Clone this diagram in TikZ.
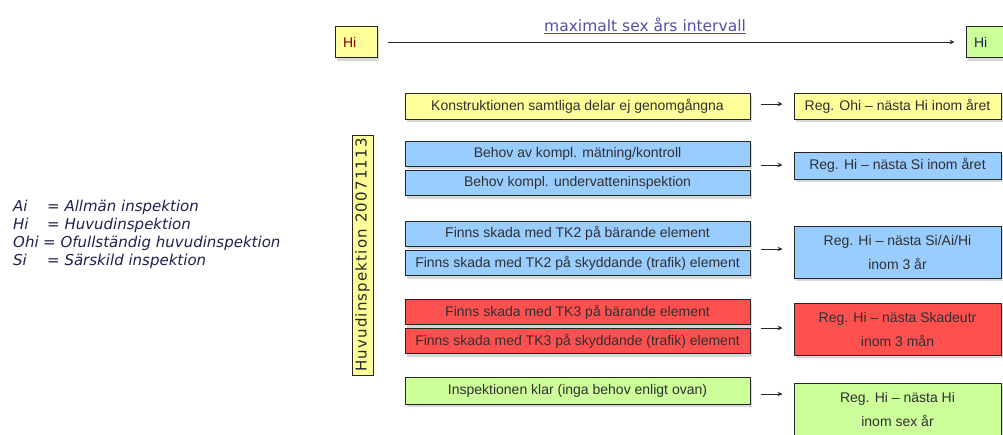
\documentclass[tikz,border=0pt]{standalone}
\usepackage{fontspec}
\setmainfont{Liberation Sans}
\newfontfamily\dvs{DejaVu Sans}
\newfontfamily\dvsls[LetterSpace=8]{DejaVu Sans}
\usetikzlibrary{arrows.meta,shadows}
\definecolor{byellow}{HTML}{FFFF99}
\definecolor{bblue}{HTML}{99CCFF}
\definecolor{bred}{HTML}{FF5050}
\definecolor{bgreen}{HTML}{CCFF99}
\definecolor{lblue}{HTML}{5050A8}
\definecolor{navy}{HTML}{1E2250}
\definecolor{txt}{HTML}{303030}
\tikzset{
  box/.style={draw=black!85, line width=0.9pt, rectangle, inner sep=0pt, align=center,
    font=\fontsize{14}{24}\selectfont, text=txt,
    drop shadow={opacity=0.3, shadow xshift=2pt, shadow yshift=-3pt}},
  lbox/.style={box, minimum width=345pt, minimum height=25pt},
  rbox/.style={box, minimum width=207pt},
  hibox/.style={box, minimum height=31pt, text width=26pt, inner xsep=8pt, align=left},
  vbox/.style={draw=black!85, line width=0.9pt, fill=byellow, rectangle, inner sep=0pt,
    font=\dvsls\fontsize{15}{16}\selectfont, text=black!85},
  arr/.style={-{Stealth[length=5pt,width=4.5pt]}, line width=0.9pt, draw=black!85},
  legend/.style={font=\dvs\itshape\fontsize{15}{18}\selectfont, text=navy, inner sep=0pt, anchor=base west},
}
\begin{document}
\begin{tikzpicture}[x=1pt,y=-1pt]
\useasboundingbox (0,0) rectangle (1003,434);
\clip (0,0) rectangle (1003,434);
\fill[white] (0,0) rectangle (1003,434);

% top row
\node[hibox, fill=byellow, text=red!50!black] (hl) at (356,42) {Hi};
\node[hibox, fill=bgreen, text=navy] (hr) at (987,42) {Hi};
\draw[arr, shorten <=11pt, shorten >=11pt] (hl) -- (hr)
  node[pos=0.455, above=4pt, font=\dvs\fontsize{15.5}{17}\selectfont, text=lblue] (lab) {\underline{maximalt sex års intervall}};

% vertical box
\node[vbox, rotate=90, minimum width=240pt, minimum height=21pt] (vb) at (362.5,255) {Huvudinspektion 20071113};

% left boxes
\node[lbox, fill=byellow, minimum height=26pt] (k1) at (577.5,106) {Konstruktionen samtliga delar ej genomgångna};
\node[lbox, fill=bblue] (b1) at (577.5,153.5) {Behov av kompl. mätning/kontroll};
\node[lbox, fill=bblue] (b2) at (577.5,183) {Behov kompl. undervatteninspektion};
\node[lbox, fill=bblue] (b3) at (577.5,233.5) {Finns skada med TK2 på bärande element};
\node[lbox, fill=bblue] (b4) at (577.5,263) {Finns skada med TK2 på skyddande (trafik) element};
\node[lbox, fill=bred] (r1) at (577.5,312) {Finns skada med TK3 på bärande element};
\node[lbox, fill=bred] (r2) at (577.5,341) {Finns skada med TK3 på skyddande (trafik) element};
\node[lbox, fill=bgreen, minimum height=27pt] (g1) at (577.5,390.5) {Inspektionen klar (inga behov enligt ovan)};

% right boxes
\node[rbox, fill=byellow, minimum height=26pt] (rk) at (897.5,106) {Reg. Ohi – nästa Hi inom året};
\node[rbox, fill=bblue, minimum height=27pt] (rb1) at (897.5,165.5) {Reg. Hi – nästa Si inom året};
\node[rbox, fill=bblue, minimum height=52pt] (rb2) at (897.5,252) {Reg. Hi – nästa Si/Ai/Hi\\inom 3 år};
\node[rbox, fill=bred, minimum height=52pt] (rr) at (897.5,329) {Reg. Hi – nästa Skadeutr\\inom 3 mån};
\node[rbox, fill=bgreen, minimum height=53pt] (rg) at (897.5,409.5) {Reg. Hi – nästa Hi\\inom sex år};

% small arrows
\coordinate (a1) at (761,104);
\coordinate (a2) at (761,165);
\coordinate (a3) at (761,249);
\coordinate (a4) at (761,328);
\coordinate (a5) at (761,394);
\draw[arr, shorten >=11pt] (a1) -- (rk.west |- a1);
\draw[arr, shorten >=11pt] (a2) -- (rb1.west |- a2);
\draw[arr, shorten >=11pt] (a3) -- (rb2.west |- a3);
\draw[arr, shorten >=11pt] (a4) -- (rr.west |- a4);
\draw[arr, shorten >=11pt] (a5) -- (rg.west |- a5);

% legend
\node[legend] (lAi) at (13,211) {Ai};
\node[legend] (tAi) at (47,211) {= Allmän inspektion};
\node[legend] (lHi) at (13,229) {Hi};
\node[legend] (tHi) at (47,229) {= Huvudinspektion};
\node[legend] (lOhi) at (13,247) {Ohi};
\node[legend] (tOhi) at (43,247) {= Ofullständig huvudinspektion};
\node[legend] (lSi) at (13,265) {Si};
\node[legend] (tSi) at (47,265) {= Särskild inspektion};
\end{tikzpicture}
\end{document}
